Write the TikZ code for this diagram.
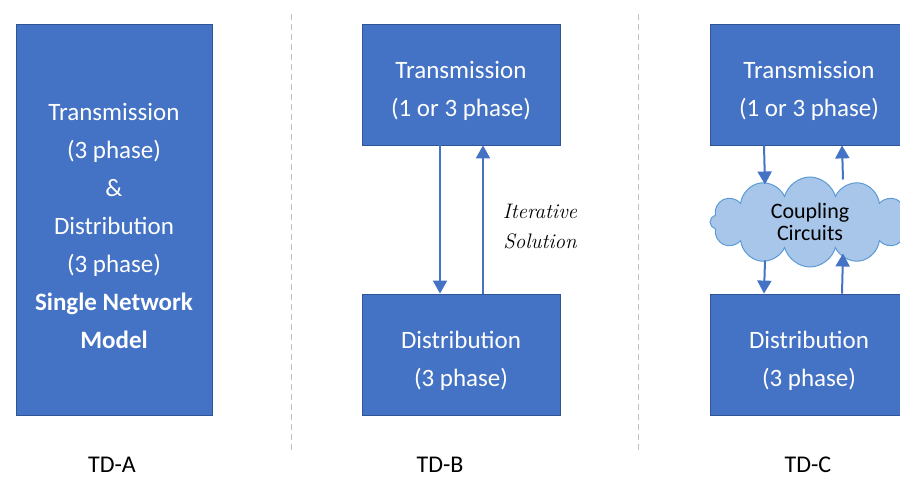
\documentclass[tikz,border=0pt]{standalone}
\usepackage{fontspec}
\setmainfont{Carlito}
\newfontfamily\itserif{Latin Modern Roman}
\newcommand{\topstrut}{\rule{0pt}{31pt}}
\usetikzlibrary{arrows.meta,shapes.symbols}
\definecolor{boxblue}{HTML}{4472C4}
\definecolor{boxline}{HTML}{2F5597}
\definecolor{cloudfill}{RGB}{168,198,233}
\definecolor{cloudline}{HTML}{5B9BD5}
\definecolor{sepgray}{HTML}{BFBFBF}

\begin{document}
\begin{tikzpicture}[x=1pt,y=-1pt,
  netbox/.style={draw=boxline,line width=0.8pt,fill=boxblue,text=white,align=center,
    inner sep=0pt,font=\fontsize{25}{38}\selectfont},
  arr/.style={draw=boxblue,line width=2pt,-{Triangle[width=14pt,length=13pt]}},
  sep/.style={draw=sepgray,line width=1pt,dash pattern=on 6pt off 4pt},
  tdlabel/.style={font=\fontsize{24}{28}\selectfont}]
\useasboundingbox (0,0) rectangle (900,478);
\clip (0,0) rectangle (900,478);

\draw (114,219.5) node[netbox,minimum width=196pt,minimum height=391pt] (single)
  {\topstrut Transmission\\(3 phase)\\\&\\Distribution\\(3 phase)\\\textbf{Single Network}\\\textbf{Model}};
\draw (112,465) node[tdlabel] (tdA) {TD-A};

\draw (291,14) -- (291,453) [sep];
\draw (638,14) -- (638,453) [sep];

  \draw (461,84.5) node[netbox,minimum width=198pt,minimum height=121pt] (transB) {\topstrut Transmission\\(1 or 3 phase)};
  \draw (461,354.5) node[netbox,minimum width=198pt,minimum height=121pt] (distB) {\topstrut Distribution\\(3 phase)};
  \draw (540,227) node[align=center,font=\fontsize{21}{30}\selectfont\itserif\itshape] (iter) {Iterative\\Solution};
  \draw (440,465) node[tdlabel] (tdB) {TD-B};

     \draw[arr] ([xshift=-21pt]transB.south) -- ([xshift=-21pt]distB.north);
     \draw[arr] ([xshift=22pt]distB.north) -- ([xshift=22pt]transB.south);

  \draw (809,84.5) node[netbox,minimum width=198pt,minimum height=121pt] (transC) {\topstrut Transmission\\(1 or 3 phase)};
  \draw (809,354.5) node[netbox,minimum width=198pt,minimum height=121pt] (distC) {\topstrut Distribution\\(3 phase)};
  \draw (810,222) node[cloud,cloud puffs=12,aspect=2.2,draw=cloudline,line width=1pt,fill=cloudfill,
    minimum width=200pt,minimum height=90pt,inner sep=0pt,align=center,
    font=\fontsize{22}{22}\selectfont] (coupling) {Coupling\\Circuits};
  \draw (808,465) node[tdlabel] (tdC) {TD-C};

     \draw[arr] ([xshift=-45pt]transC.south) -- ([xshift=-45pt,yshift=-8pt]coupling.north);
     \draw[arr] ([xshift=33pt,yshift=-3pt]coupling.north) -- ([xshift=33pt]transC.south);
     \draw[arr] ([xshift=-45pt,yshift=7pt]coupling.south) -- ([xshift=-45pt]distC.north);
     \draw[arr] ([xshift=33pt]distC.north) -- ([xshift=33pt,yshift=14pt]coupling.south);

\end{tikzpicture}
\end{document}
